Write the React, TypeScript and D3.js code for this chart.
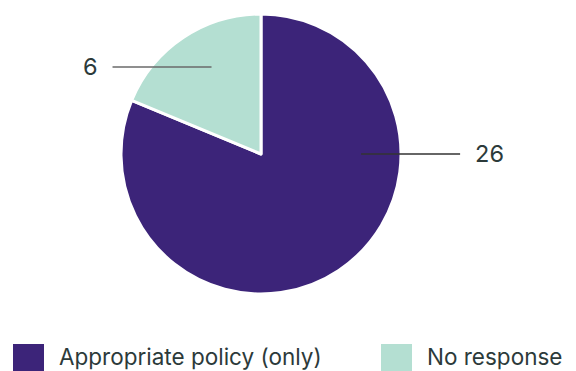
import React from "react";
import * as d3 from "d3";

const categories = ["Appropriate policy (only)", "No response"];
const values = [26, 6];
const colors = ["#3c2479", "#b4dfd2"];
// angle (radians, clockwise from 12 o'clock) where each label leader line starts
const labelAnchorAngles = [Math.PI / 2, -0.517];
const labelSides = [1, -1];

const W = 576;
const H = 371;
const cx = 261;
const cy = 154;
const R = 140;

export default function App() {
  const pie = d3.pie<number>().sort(null).value((d) => d);
  const arcs = pie(values);
  const arc = d3.arc<d3.PieArcDatum<number>>().innerRadius(0).outerRadius(R);
  const font = "Inter, 'Noto Sans', sans-serif";
  const textColor = "#2c3a3a";

  const legendX = [13, 381];
  const legendTextX = [59, 427];

  return (
    <svg
      width={W}
      height={H}
      style={{ position: "absolute", left: 0, top: 0, background: "#fff" }}
    >
      <g transform={`translate(${cx},${cy})`}>
        {arcs.map((a, i) => (
          <path key={i} d={arc(a) || ""} fill={colors[i]} stroke="#fff" strokeWidth={3} strokeLinejoin="round" />
        ))}
        {arcs.map((a, i) => {
          const ang = labelAnchorAngles[i];
          const r0 = R * 0.715;
          const x0 = r0 * Math.sin(ang);
          const y0 = -r0 * Math.cos(ang);
          const side = labelSides[i];
          const x1 = x0 + side * 99;
          return (
            <g key={"l" + i}>
              <line x1={x0} y1={y0} x2={x1} y2={y0} stroke={i === 0 ? "#333" : "#6a6a6a"} strokeWidth={1.3} />
              <text
                x={x1 + side * 15}
                y={y0}
                dy="0.35em"
                textAnchor={side > 0 ? "start" : "end"}
                fontFamily={font}
                fontSize={23.5}
                fill={textColor}
              >
                {values[i]}
              </text>
            </g>
          );
        })}
      </g>
      {categories.map((c, i) => (
        <g key={"lg" + i}>
          <rect x={legendX[i]} y={344} width={31} height={31} fill={colors[i]} />
          <text x={legendTextX[i]} y={365} fontFamily={font} fontSize={22.5} fill={textColor}>
            {c}
          </text>
        </g>
      ))}
    </svg>
  );
}
